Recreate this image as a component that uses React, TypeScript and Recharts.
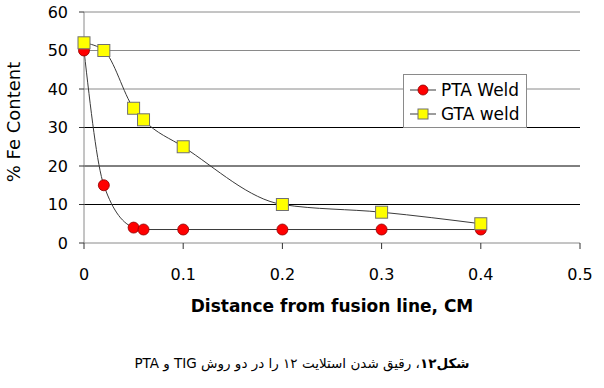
import { Label, Line, LineChart, ReferenceLine, XAxis, YAxis } from "recharts";

// distance from the fusion line (cm) and % Fe
const distances = [0, 0.02, 0.05, 0.06, 0.1, 0.2, 0.3, 0.4];
const ptaWeld = [50, 15, 4, 3.5, 3.5, 3.5, 3.5, 3.5];
const gtaWeld = [52, 50, 35, 32, 25, 10, 8, 5];

const xTicks = [0, 0.1, 0.2, 0.3, 0.4, 0.5];
const yTicks = [0, 10, 20, 30, 40, 50, 60];

const PTA_NAME = "PTA Weld";
const GTA_NAME = "GTA weld";
const X_TITLE = "Distance from fusion line, CM";
const Y_TITLE = "% Fe Content";
const CAPTION_BOLD = "شکل۱۲";
const CAPTION_REST = "، رقیق شدن استلایت ۱۲ را در دو روش TIG و PTA";

const FONT = '"DejaVu Sans", Verdana, sans-serif';
const AXIS_GRAY = "#8a8a8a";
const LINE_COLOR = "#3a3a3a";

const data = distances.map((d, i) => ({ d, pta: ptaWeld[i], gta: gtaWeld[i] }));

function Circle({ cx, cy, r = 5.5 }: { cx: number; cy: number; r?: number }) {
  return <circle cx={cx} cy={cy} r={r} fill="#ff0000" stroke="#8b0000" strokeWidth={0.8} />;
}

function Square({ cx, cy, s = 12 }: { cx: number; cy: number; s?: number }) {
  return (
    <rect x={cx - s / 2} y={cy - s / 2} width={s} height={s} fill="#ffff00" stroke="#707070" strokeWidth={1} />
  );
}

function LegendRow({ name, kind }: { name: string; kind: "circle" | "square" }) {
  return (
    <div style={{ display: "flex", alignItems: "center", height: 24 }}>
      <svg width={28} height={14} style={{ display: "block" }}>
        <line x1={0} y1={7} x2={26} y2={7} stroke={LINE_COLOR} strokeWidth={1} />
        {kind === "circle" ? <Circle cx={13} cy={7} r={5} /> : <Square cx={13} cy={7} s={10} />}
      </svg>
      <span style={{ marginLeft: 3, fontSize: 17, color: "#000", lineHeight: "24px" }}>{name}</span>
    </div>
  );
}

// legend drawn as an overlay so it doesn't eat into the plot height
function LegendBox() {
  return (
    <div
      style={{
        position: "absolute",
        left: 403,
        top: 74,
        boxSizing: "border-box",
        width: 124,
        height: 54,
        border: "1px solid #8a8a8a",
        background: "#fff",
        padding: "3px 0 0 6px",
      }}
    >
      <LegendRow name={PTA_NAME} kind="circle" />
      <LegendRow name={GTA_NAME} kind="square" />
    </div>
  );
}

export default function App() {
  return (
    <div
      style={{
        position: "absolute",
        left: 0,
        top: 0,
        width: 604,
        height: 388,
        background: "#fff",
        fontFamily: FONT,
      }}
    >
      <LineChart width={604} height={330} data={data} margin={{ top: 12, right: 24, left: 0, bottom: 7 }}>
        {yTicks
          .filter((v) => v > 0)
          .map((v) => (
            <ReferenceLine key={v} y={v} stroke={v >= 40 ? AXIS_GRAY : "#000"} strokeWidth={1} />
          ))}
        <XAxis
          type="number"
          dataKey="d"
          domain={[0, 0.5]}
          ticks={xTicks}
          tickFormatter={(v: number) => String(v)}
          height={80}
          tickSize={6}
          tickMargin={20}
          axisLine={{ stroke: AXIS_GRAY }}
          tickLine={{ stroke: "#333" }}
          tick={{ fill: "#000", fontSize: 16 }}
          interval={0}
        >
          <Label
            content={(props: any) => {
              const vb = props.viewBox || { x: 84, y: 243, width: 496 };
              return (
                <text
                  x={vb.x + vb.width / 2}
                  y={vb.y + 69}
                  textAnchor="middle"
                  fontSize={17}
                  fontWeight="bold"
                  fill="#000"
                >
                  {X_TITLE}
                </text>
              );
            }}
          />
        </XAxis>
        <YAxis
          type="number"
          domain={[0, 60]}
          ticks={yTicks}
          width={84}
          tickSize={5}
          tickMargin={11}
          interval={0}
          axisLine={{ stroke: AXIS_GRAY }}
          tickLine={{ stroke: "#333" }}
          tick={{ fill: "#000", fontSize: 16 }}
        >
          <Label
            content={() => (
              <text x={20} y={122} transform="rotate(-90 20 122)" textAnchor="middle" fontSize={18} fill="#000">
                {Y_TITLE}
              </text>
            )}
          />
        </YAxis>
        <Line
          type="monotone"
          dataKey="pta"
          name={PTA_NAME}
          stroke={LINE_COLOR}
          strokeWidth={1}
          isAnimationActive={false}
          dot={(p: any) => <Circle key={`pta-${p.index}`} cx={p.cx} cy={p.cy} />}
          activeDot={false}
        />
        <Line
          type="monotone"
          dataKey="gta"
          name={GTA_NAME}
          stroke={LINE_COLOR}
          strokeWidth={1}
          isAnimationActive={false}
          dot={(p: any) => <Square key={`gta-${p.index}`} cx={p.cx} cy={p.cy} />}
          activeDot={false}
        />
      </LineChart>
      <LegendBox />
      <div
        dir="rtl"
        style={{
          position: "absolute",
          left: 0,
          top: 353,
          width: 604,
          textAlign: "center",
          fontSize: 13.5,
          lineHeight: "20px",
          color: "#000",
        }}
      >
        <b>{CAPTION_BOLD}</b>
        {CAPTION_REST}
      </div>
    </div>
  );
}
